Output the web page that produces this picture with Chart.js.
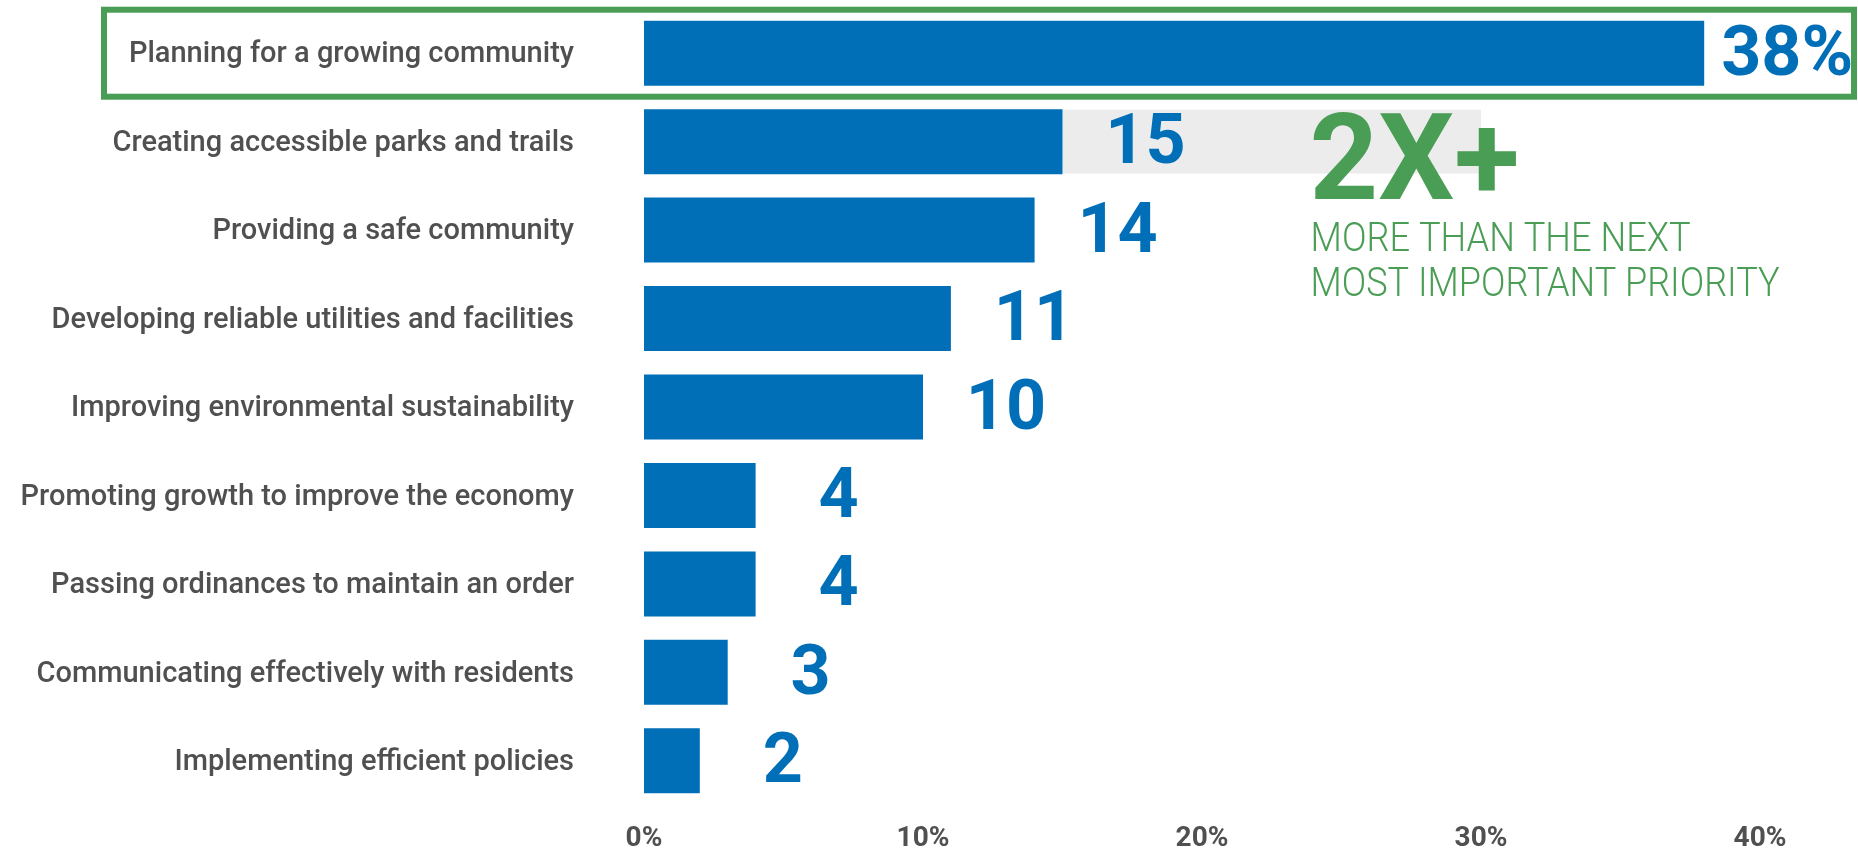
<!DOCTYPE html>
<html>
<head>
<meta charset="utf-8">
<script src="https://cdn.jsdelivr.net/npm/chart.js@4.4.1/dist/chart.umd.min.js"></script>
<style>
  html, body { margin: 0; padding: 0; background: #ffffff; }
  #wrap { width: 1858px; height: 851px; position: relative; }
</style>
</head>
<body>
<div id="wrap"><canvas id="c" width="1858" height="851"></canvas></div>
<script>
const categories = [
  "Planning for a growing community",
  "Creating accessible parks and trails",
  "Providing a safe community",
  "Developing reliable utilities and facilities",
  "Improving environmental sustainability",
  "Promoting growth to improve the economy",
  "Passing ordinances to maintain an order",
  "Communicating effectively with residents",
  "Implementing efficient policies"
];
const values = [38, 15, 14, 11, 10, 4, 4, 3, 2];
const valueLabels = ["38%", "15", "14", "11", "10", "4", "4", "3", "2"];
const comparisonRow = 1;
const comparisonRange = [15, 30];
const xTicks = [0, 10, 20, 30, 40];
const calloutBig = "2X+";
const calloutLines = ["MORE THAN THE NEXT", "MOST IMPORTANT PRIORITY"];

const BLUE = "#006fb8";
const GREEN = "#4a9d55";
const GREY_BAR = "#ececec";
const TEXT = "#505050";

const annotate = {
  id: "annotate",
  beforeDatasetsDraw(chart) {
    const ctx = chart.ctx;
    const y = chart.scales.y;
    const cy = y.getPixelForValue(0);
    ctx.save();
    ctx.strokeStyle = GREEN;
    ctx.lineWidth = 6;
    ctx.strokeRect(104, cy - 43.5, 1854 - 104, 87);
    ctx.restore();
  },
  afterDatasetsDraw(chart) {
    const ctx = chart.ctx;
    const meta = chart.getDatasetMeta(0);
    ctx.save();
    ctx.fillStyle = BLUE;
    ctx.textAlign = "center";
    ctx.textBaseline = "middle";
    ctx.font = "bold 70px Roboto";
    meta.data.forEach((bar, i) => {
      ctx.fillText(valueLabels[i], bar.x + 83, bar.y + 4);
    });
    const x = chart.scales.x;
    const left = x.getPixelForValue(24);
    ctx.fillStyle = GREEN;
    ctx.textAlign = "left";
    ctx.textBaseline = "alphabetic";
    ctx.font = "bold 121px Roboto";
    ctx.fillText(calloutBig, left - 4, 199, 210);
    ctx.font = "300 41px Roboto";
    ctx.fillText(calloutLines[0], left - 3, 251, 380);
    ctx.fillText(calloutLines[1], left - 3, 296, 469);
    ctx.restore();
  }
};

const comparisonData = categories.map((c, i) => i === comparisonRow ? comparisonRange : null);

new Chart(document.getElementById("c"), {
  type: "bar",
  data: {
    labels: categories,
    datasets: [
      {
        data: values,
        backgroundColor: BLUE,
        borderWidth: 0,
        grouped: false,
        order: 0,
        categoryPercentage: 1,
        barPercentage: 0.735
      },
      {
        data: comparisonData,
        backgroundColor: GREY_BAR,
        borderWidth: 0,
        grouped: false,
        order: 1,
        categoryPercentage: 1,
        barPercentage: 0.72
      }
    ]
  },
  options: {
    indexAxis: "y",
    responsive: false,
    devicePixelRatio: 1,
    animation: false,
    layout: { padding: { top: 9, right: 98, left: 0, bottom: 0 } },
    plugins: { legend: { display: false }, tooltip: { enabled: false } },
    scales: {
      x: {
        min: 0, max: 40,
        afterBuildTicks: (s) => { s.ticks = xTicks.map(v => ({ value: v })); },
        ticks: {
          callback: (v) => v + "%",
          color: TEXT,
          font: { family: "Roboto", weight: "bold", size: 28 },
          padding: 0,
          maxRotation: 0
        },
        grid: { display: false, drawTicks: true, tickLength: 17 },
        border: { display: false },
        afterFit: (s) => { s.height = 46; s.paddingLeft = 0; s.paddingRight = 0; }
      },
      y: {
        ticks: {
          color: TEXT,
          font: { family: "Roboto", weight: 500, size: 29 },
          padding: 0,
          labelOffset: 2,
          crossAlign: "near"
        },
        grid: { display: false, drawTicks: true, tickLength: 70 },
        border: { display: false },
        afterFit: (s) => { s.width = 644; s.paddingTop = 0; s.paddingBottom = 0; }
      }
    }
  },
  plugins: [annotate]
});
</script>
</body>
</html>
